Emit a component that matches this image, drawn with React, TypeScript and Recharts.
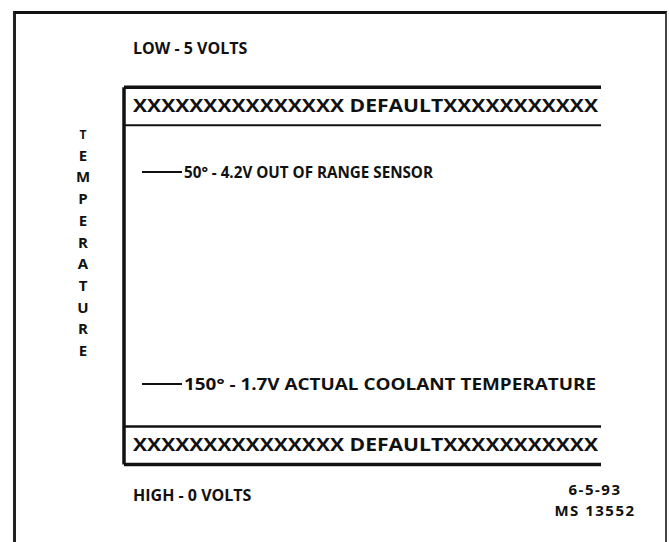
import React from "react";
import {
  ComposedChart,
  XAxis,
  YAxis,
  Scatter,
  ReferenceLine,
  ReferenceArea,
} from "recharts";

// temperature scale (degrees, reversed: cold at the top)
const tempDomain = [0, 200];
const sensorTemps = [50, 150];
const sensorVolts = [4.2, 1.7];
const sensorNotes = ["OUT OF RANGE SENSOR", "ACTUAL COOLANT TEMPERATURE"];
// default zones, top and bottom of the range
const defaultBands = [
  [10, 28],
  [170, 188],
];
const bandText = "XXXXXXXXXXXXXXX DEFAULTXXXXXXXXXXX";
const axisTitle = "TEMPERATURE";
const topLabel = "LOW - 5 VOLTS";
const bottomLabel = "HIGH - 0 VOLTS";
const stamp = ["6-5-93", "MS 13552"];

const readings = sensorTemps.map((t, i) => ({
  pos: 0,
  temp: t,
  volts: sensorVolts[i],
  note: sensorNotes[i],
}));

const INK = "#111";
const FONT = "'Open Sans', 'DejaVu Sans', sans-serif";
const textWidths = [249, 412];

function ReadingMark(props: any) {
  const { cx, cy, payload, index } = props;
  const label = `${payload.temp}° - ${payload.volts.toFixed(1)}V ${payload.note}`;
  return (
    <g>
      <line x1={cx + 18} x2={cx + 58} y1={cy} y2={cy} stroke={INK} strokeWidth={2} />
      <text
        x={cx + 60}
        y={cy + 6}
        fontFamily={FONT}
        fontWeight={700}
        fontSize={16}
        fill={INK}
        textLength={textWidths[index] ?? undefined}
        lengthAdjust="spacingAndGlyphs"
      >
        {label}
      </text>
    </g>
  );
}

function BandLabel(props: any) {
  const { viewBox } = props;
  const cy = viewBox.y + viewBox.height / 2;
  return (
    <text
      x={viewBox.x + 9}
      y={cy + 6}
      fontFamily={FONT}
      fontWeight={700}
      fontSize={17}
      fill={INK}
      textLength={465}
      lengthAdjust="spacingAndGlyphs"
    >
      {bandText}
    </text>
  );
}

function AxisTitle(props: any) {
  const { viewBox } = props;
  const letters = axisTitle.split("");
  return (
    <g>
      {letters.map((ch, i) => (
        <text
          key={i}
          x={viewBox.x + 19}
          y={viewBox.y + 73 + i * 21.7}
          textAnchor="middle"
          fontFamily={FONT}
          fontWeight={700}
          fontSize={i === 0 ? 12 : 15}
          fill={INK}
        >
          {ch}
        </text>
      ))}
    </g>
  );
}

const textStyle: React.CSSProperties = {
  position: "absolute",
  fontFamily: FONT,
  fontWeight: 700,
  fontSize: 16,
  color: INK,
  whiteSpace: "nowrap",
};

export default function App() {
  return (
    <div style={{ position: "absolute", left: 0, top: 0, width: 669, height: 542, background: "#fff", overflow: "hidden" }}>
      <div
        style={{
          position: "absolute",
          left: 13,
          top: 11,
          width: 654,
          height: 531,
          boxSizing: "border-box",
          borderTop: "3.5px solid #111",
          borderLeft: "3px solid #222",
          borderRight: "2px solid #444",
        }}
      />
      <div style={{ ...textStyle, left: 133, top: 37 }}>{topLabel}</div>
      <div style={{ ...textStyle, left: 133, top: 484 }}>{bottomLabel}</div>
      <div
        style={{
          ...textStyle,
          left: 540,
          width: 110,
          top: 479,
          fontSize: 15,
          lineHeight: "21px",
          letterSpacing: 1.5,
          textAlign: "center",
        }}
      >
        {stamp.map((s) => (
          <div key={s} style={{ height: 21 }}>{s}</div>
        ))}
      </div>
      <ComposedChart
        width={669}
        height={542}
        data={readings}
        margin={{ top: 66, right: 68, bottom: 52, left: 64 }}
        style={{ position: "absolute", left: 0, top: 0 }}
      >
        <XAxis type="number" dataKey="pos" domain={[0, 100]} hide />
        <YAxis
          type="number"
          dataKey="temp"
          domain={tempDomain}
          reversed
          width={60}
          tick={false}
          tickLine={false}
          axisLine={false}
          label={{ content: (p: any) => <AxisTitle {...p} /> }}
        />
        {defaultBands.map(([a, b], i) => (
          <ReferenceArea
            key={`band-${i}`}
            y1={a}
            y2={b}
            fill="none"
            stroke="none"
            label={{ content: (p: any) => <BandLabel {...p} /> }}
          />
        ))}
        {defaultBands.map(([a], i) => (
          <ReferenceLine key={`top-${i}`} y={a} stroke={INK} strokeWidth={i === 0 ? 3.5 : 2.5} />
        ))}
        {defaultBands.map(([, b], i) => (
          <ReferenceLine key={`bot-${i}`} y={b} stroke={INK} strokeWidth={i === 0 ? 2 : 3.5} />
        ))}
        <ReferenceLine
          segment={[
            { x: 0, y: defaultBands[0][0] },
            { x: 0, y: defaultBands[1][1] },
          ]}
          stroke={INK}
          strokeWidth={3.5}
        />
        <Scatter dataKey="temp" shape={ReadingMark} isAnimationActive={false} />
      </ComposedChart>
    </div>
  );
}
